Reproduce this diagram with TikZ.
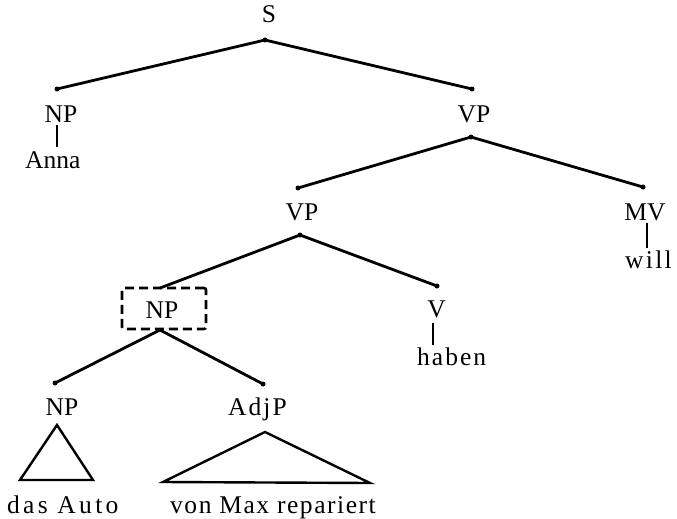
\documentclass[tikz,border=0pt]{standalone}
\usepackage{fontspec}
\setmainfont{Liberation Serif}
\begin{document}
\begin{tikzpicture}[x=1pt,y=-1pt,
  lbl/.style={inner sep=0pt,anchor=base,font=\fontsize{25.5}{30}\selectfont},
  lblw/.style={lbl,anchor=base west},
  branch/.style={line width=2.8pt,line cap=round},
  leafline/.style={line width=1.5pt},
  tri/.style={line width=2.4pt,line join=miter},
  dotend/.style={fill,circle,inner sep=0pt,minimum size=5pt}]
\useasboundingbox (0,0) rectangle (677,519);
% labels
\node[lbl] (S) at (269,23) {S};
\node[lbl] (NPa) at (61,122) {NP};
\node[lblw] (Anna) at (25,168) {Anna};
\node[lbl] (VPa) at (474,122) {VP};
\node[lbl] (VPb) at (302,220) {VP};
\node[lbl] (MV) at (645,220) {MV};
\node[lblw] (will) at (625,268) {\addfontfeature{LetterSpace=9}will};
\node[draw,dashed,line width=2.6pt,dash pattern=on 9pt off 5pt,rounded corners=2pt,minimum width=84pt,minimum height=41pt] (NPbox) at (164,308.5) {};
\node[lbl] (NPb) at (162,318) {NP};
\node[lbl] (V) at (436.5,317) {V};
\node[lblw] (haben) at (417,365) {\addfontfeature{LetterSpace=8}haben};
\node[lbl] (NPc) at (62,415) {NP};
\node[lblw] (AdjP) at (228,415) {\addfontfeature{LetterSpace=8}AdjP};
\node[lblw] (dasAuto) at (7,513) {\addfontfeature{LetterSpace=13}das Auto};
\node[lblw] (vonMax) at (170,513) {\addfontfeature{LetterSpace=6}von Max repariert};
% branch points
\coordinate (s0) at (265,40);
\coordinate (npat) at (57,89);
\coordinate (vpat) at (472,89);
\coordinate (vpab) at (471,137);
\coordinate (vpbt) at (298,188);
\coordinate (mvt) at (643,187);
\coordinate (vpbb) at (300,235);
\coordinate (npbt) at (160,288);
\coordinate (vt) at (437,286);
\coordinate (npbb) at (160,330);
\coordinate (npct) at (55,383);
\coordinate (adjt) at (263,384);
% branches
\draw[branch] (s0) -- (npat);
\draw[branch] (s0) -- (vpat);
\draw[branch] (vpab) -- (vpbt);
\draw[branch] (vpab) -- (mvt);
\draw[branch] (vpbb) -- (npbt);
\draw[branch] (vpbb) -- (vt);
\draw[branch] (npbb) -- (npct);
\draw[branch] (npbb) -- (adjt);
\foreach \p in {s0,npat,vpat,vpab,vpbt,mvt,vpbb,vt,npct,adjt}
  \node[dotend] at (\p) {};
% leaf lines
\coordinate (la1) at (57,125); \coordinate (la2) at (57,147);
\coordinate (lm1) at (647,223); \coordinate (lm2) at (647,248);
\coordinate (lv1) at (433,323); \coordinate (lv2) at (433,345);
\draw[leafline] (la1) -- (la2);
\draw[leafline] (lm1) -- (lm2);
\draw[leafline] (lv1) -- (lv2);
% triangles
\coordinate (t1a) at (57,425);
\coordinate (t1l) at (20,480);
\coordinate (t1r) at (93,480);
\draw[tri] (t1a) -- (t1l) -- (t1r) -- cycle;
\coordinate (t2a) at (265,432);
\coordinate (t2l) at (163,482);
\coordinate (t2r) at (370,483);
\draw[tri] (t2a) -- (t2l) -- (t2r) -- cycle;
\end{tikzpicture}
\end{document}
